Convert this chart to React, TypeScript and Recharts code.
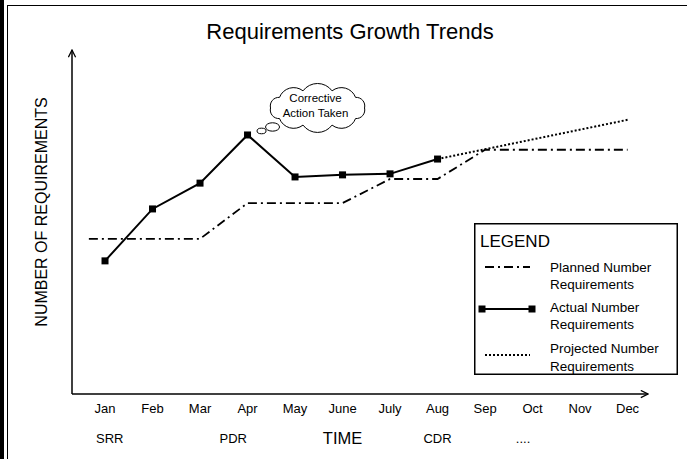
import React from 'react';
import { LineChart, Line, XAxis, YAxis, Legend, ReferenceDot } from 'recharts';

// month axis + milestone row
const MONTHS = ['Jan', 'Feb', 'Mar', 'Apr', 'May', 'June', 'July', 'Aug', 'Sep', 'Oct', 'Nov', 'Dec'];
const MONTH_TICKS = [0, 1, 2, 3, 4, 5, 6, 7, 8, 9, 10, 11];
const MILESTONES = ['SRR', 'PDR', 'TIME', 'CDR', '....'];
const MILESTONE_POS = [0.1, 2.7, 5, 7, 8.8];

// series (arbitrary requirement units, 0-100)
const ACTUAL_X = [0, 1, 2, 3, 4, 5, 6, 7];
const ACTUAL = [38.7, 53.8, 61.3, 75.3, 63.1, 63.7, 64.0, 68.3];
const PLANNED_X = [-0.34, 0, 1, 2, 3, 4, 5, 6, 7, 8, 9, 10, 11];
const PLANNED = [45.1, 45.1, 45.1, 45.1, 55.5, 55.5, 55.5, 62.5, 62.5, 71, 71, 71, 71];
const PROJECTED_X = [7, 11];
const PROJECTED = [68.3, 79.7];

const FONT = '"Liberation Sans", Arial, sans-serif';

const actualData = ACTUAL_X.map((x, i) => ({ x, v: ACTUAL[i] }));
const plannedData = PLANNED_X.map((x, i) => ({ x, v: PLANNED[i] }));
const projectedData = PROJECTED_X.map((x, i) => ({ x, v: PROJECTED[i] }));

const X_DOMAIN: [number, number] = [-0.695, 11.43];

const SquareDot = (props: any) => {
  const { cx, cy, index } = props;
  return <rect key={`sq-${index}`} x={cx - 3.5} y={cy - 3.5} width={7} height={7} fill="#000" />;
};

const MonthTick = (props: any) => {
  const { x, y, payload } = props;
  return (
    <text x={x} y={y} dy={18.5} textAnchor="middle" fontSize={13} fontFamily={FONT} fill="#000">
      {MONTHS[payload.value]}
    </text>
  );
};

const MilestoneTick = (props: any) => {
  const { x, y, payload } = props;
  const idx = MILESTONE_POS.indexOf(payload.value);
  const label = MILESTONES[idx];
  const big = label === 'TIME';
  return (
    <text x={x} y={y} dy={big ? 19.8 : 18.6} textAnchor="middle" fontSize={big ? 16.5 : 13} fontFamily={FONT} fill="#000">
      {label}
    </text>
  );
};

const cloudPath = (cx: number, cy: number, rx: number, ry: number, n: number) => {
  const pts: [number, number][] = [];
  for (let i = 0; i <= n; i++) {
    const a = Math.PI + (2 * Math.PI * i) / n;
    pts.push([cx + rx * Math.cos(a), cy + ry * Math.sin(a)]);
  }
  let d = `M${pts[0][0]},${pts[0][1]}`;
  for (let i = 1; i < pts.length; i++) {
    const c = Math.hypot(pts[i][0] - pts[i - 1][0], pts[i][1] - pts[i - 1][1]);
    const r = c * 0.62;
    d += ` A${r},${r} 0 0 1 ${pts[i][0]},${pts[i][1]}`;
  }
  return d + ' Z';
};

// thought cloud anchored on the April peak
const CloudShape = (props: any) => {
  const { cx, cy } = props;
  const ccx = cx + 70;
  const ccy = cy - 27;
  return (
    <g>
      <ellipse cx={cx + 25} cy={cy - 8} rx={7} ry={4.2} fill="#fff" stroke="#000" strokeWidth={1} />
      <ellipse cx={cx + 14} cy={cy - 4} rx={4.5} ry={2.8} fill="#fff" stroke="#000" strokeWidth={1} />
      <path d={cloudPath(ccx, ccy, 47, 18, 10)} fill="#fff" stroke="#000" strokeWidth={1} />
      <text x={ccx - 2} y={ccy - 6} textAnchor="middle" fontSize={11.5} fontFamily={FONT} fill="#000">Corrective</text>
      <text x={ccx - 2} y={ccy + 9} textAnchor="middle" fontSize={11.5} fontFamily={FONT} fill="#000">Action Taken</text>
    </g>
  );
};

const renderLegend = () => (
  <svg width={204} height={152} style={{ display: 'block' }}>
    <rect x={0.75} y={0.75} width={202.5} height={150.5} fill="#fff" stroke="#000" strokeWidth={1.5} />
    <text x={6} y={24} fontSize={17} fontFamily={FONT} fill="#000">LEGEND</text>

    <line x1={11} y1={44} x2={56} y2={44} stroke="#000" strokeWidth={1.8} strokeDasharray="9 4 2 4" />
    <text x={76} y={48.7} fontSize={13.5} fontFamily={FONT} fill="#000">Planned Number</text>
    <text x={76} y={65.7} fontSize={13.5} fontFamily={FONT} fill="#000">Requirements</text>

    <line x1={8} y1={86} x2={58} y2={86} stroke="#000" strokeWidth={2} />
    <rect x={4.5} y={82.5} width={7} height={7} fill="#000" />
    <rect x={54.5} y={82.5} width={7} height={7} fill="#000" />
    <text x={76} y={88.7} fontSize={13.5} fontFamily={FONT} fill="#000">Actual Number</text>
    <text x={76} y={105.7} fontSize={13.5} fontFamily={FONT} fill="#000">Requirements</text>

    <line x1={11} y1={132} x2={56} y2={132} stroke="#000" strokeWidth={2} strokeDasharray="2 2" />
    <text x={76} y={129.7} fontSize={13.5} fontFamily={FONT} fill="#000">Projected Number</text>
    <text x={76} y={147.7} fontSize={13.5} fontFamily={FONT} fill="#000">Requirements</text>
  </svg>
);

const YLabel = (props: any) => {
  const { viewBox } = props;
  const x = viewBox.x + viewBox.width / 2 + 1;
  const y = viewBox.y + viewBox.height / 2 - 10;
  return (
    <text x={x} y={y} transform={`rotate(-90 ${x} ${y})`} textAnchor="middle" dominantBaseline="central" fontSize={16} fontFamily={FONT} fill="#000">
      NUMBER OF REQUIREMENTS
    </text>
  );
};

export default function App() {
  return (
    <div style={{ position: 'absolute', left: 0, top: 0, width: 687, height: 459, background: '#fff', overflow: 'hidden', fontFamily: FONT }}>
      <div style={{ position: 'absolute', left: 0, top: 0, width: 4, height: 459, background: '#000' }} />
      <div style={{ position: 'absolute', left: 6.5, top: 4.5, width: 690, height: 470, borderLeft: '1.5px solid #000', borderTop: '1.5px solid #000' }} />
      <div style={{ position: 'absolute', left: 0, top: 21, width: 700, textAlign: 'center', fontSize: 22, lineHeight: '22px', color: '#000' }}>
        Requirements Growth Trends
      </div>
      <div style={{ position: 'absolute', left: 0, top: 0 }}>
        <LineChart width={687} height={459} margin={{ top: 50, right: 39, bottom: 5, left: 8 }}>
          <defs>
            <marker id="arrowHead" viewBox="0 0 10 10" refX={9} refY={5} markerWidth={9} markerHeight={9} markerUnits="userSpaceOnUse" orient="auto-start-reverse">
              <path d="M1,1 L9,5 L1,9" fill="none" stroke="#000" strokeWidth={1.4} />
            </marker>
          </defs>
          <XAxis
            dataKey="x"
            type="number"
            domain={X_DOMAIN}
            allowDataOverflow
            ticks={MONTH_TICKS}
            interval={0}
            height={30}
            tickLine={false}
            tickSize={0}
            tickMargin={0}
            tick={<MonthTick />}
            axisLine={{ stroke: '#000', strokeWidth: 1.5, markerEnd: 'url(#arrowHead)' }}
          />
          <XAxis
            xAxisId="ms"
            dataKey="x"
            type="number"
            domain={X_DOMAIN}
            allowDataOverflow
            ticks={MILESTONE_POS}
            interval={0}
            height={30}
            tickLine={false}
            tickSize={0}
            tickMargin={0}
            axisLine={false}
            tick={<MilestoneTick />}
          />
          <YAxis
            type="number"
            domain={[0, 100]}
            width={64}
            tick={false}
            tickLine={false}
            axisLine={{ stroke: '#000', strokeWidth: 1.5, markerStart: 'url(#arrowHead)' }}
            label={<YLabel />}
          />
          <Legend layout="horizontal" verticalAlign="middle" align="center" content={renderLegend} wrapperStyle={{ left: 474, top: 223, width: 204, height: 152 }} />
          <Line data={plannedData} dataKey="v" name="Planned Number Requirements" stroke="#000" strokeWidth={1.8} strokeDasharray="9 4 2 4" dot={false} isAnimationActive={false} />
          <Line data={projectedData} dataKey="v" name="Projected Number Requirements" stroke="#000" strokeWidth={2} strokeDasharray="2 2" dot={false} isAnimationActive={false} />
          <Line data={actualData} dataKey="v" name="Actual Number Requirements" stroke="#000" strokeWidth={2} dot={<SquareDot />} activeDot={false} isAnimationActive={false} />
          <ReferenceDot x={3} y={ACTUAL[3]} r={0} shape={<CloudShape />} />
        </LineChart>
      </div>
    </div>
  );
}
